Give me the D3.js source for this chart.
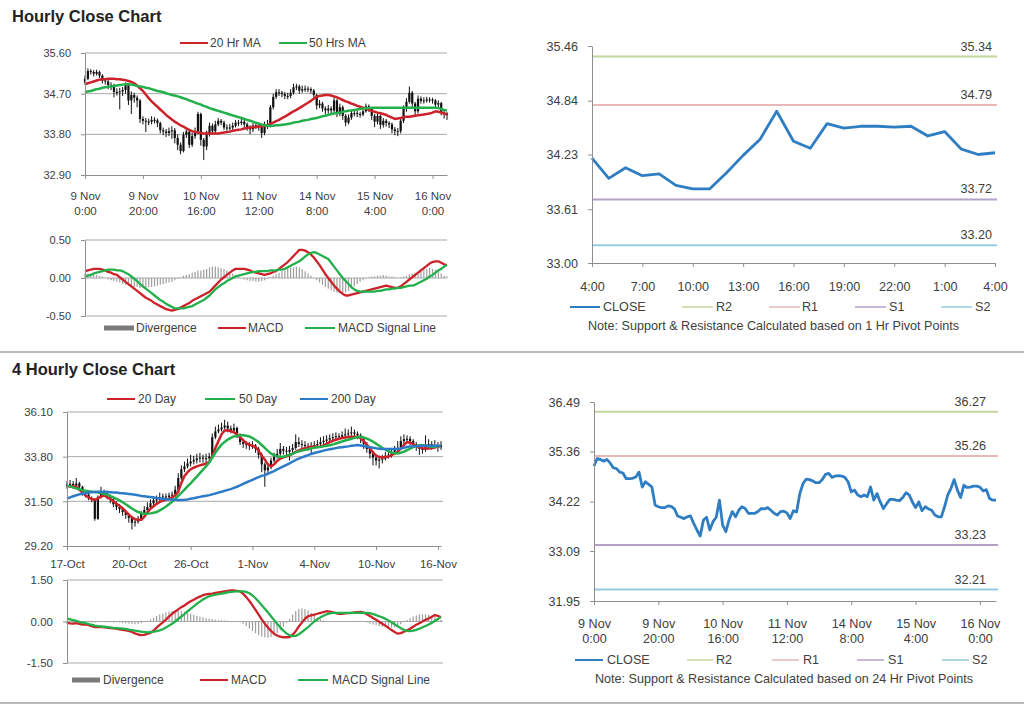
<!DOCTYPE html>
<html><head><meta charset="utf-8">
<script src="https://cdn.jsdelivr.net/npm/d3@7"></script>
<style>
body{margin:0;background:#fff;}
svg{display:block;}
</style></head><body>
<svg id="chart" width="1024" height="706"></svg>
<script>
// ---------------- DATA ----------------
// Hourly bars (9 Nov 0:00 -> 16 Nov), 126 bars
const hourlyTickLabels = [["9 Nov","0:00"],["9 Nov","20:00"],["10 Nov","16:00"],["11 Nov","12:00"],["14 Nov","8:00"],["15 Nov","4:00"],["16 Nov","0:00"]];
const hourlyFirstOpen = 34.95;
const hourlyClose = [
35.03,35.20,35.18,35.14,35.18,35.10,34.99,34.97,34.89,34.87,
34.74,34.74,34.75,34.78,34.89,34.55,34.67,34.61,34.55,34.14,
34.10,34.08,34.08,34.12,34.11,34.05,33.89,33.86,33.83,33.87,
33.89,33.72,33.57,33.43,33.79,33.86,33.57,33.76,33.86,34.25,
33.68,33.53,33.80,33.99,33.87,34.02,34.10,34.06,33.95,33.95,
33.95,33.99,34.06,34.05,34.08,34.02,33.95,33.91,33.99,34.00,
33.96,33.83,34.01,33.98,34.40,34.63,34.73,34.72,34.69,34.65,
34.65,34.72,34.84,34.86,34.77,34.80,34.81,34.80,34.77,34.67,
34.44,34.48,34.37,34.33,34.37,34.33,34.55,34.25,34.40,34.21,
34.06,34.17,34.27,34.27,34.25,34.24,34.31,34.42,34.37,34.21,
34.08,34.21,34.01,34.10,34.05,34.02,33.91,33.87,33.87,34.10,
34.37,34.52,34.72,34.48,34.31,34.59,34.54,34.55,34.57,34.57,
34.55,34.46,34.49,34.29,34.25,34.25];
const hourlyHigh = [
35.10,35.26,35.24,35.22,35.23,35.21,35.13,35.04,35.01,34.95,
34.92,34.82,34.83,34.85,34.95,34.92,34.75,34.72,34.66,34.58,
34.20,34.16,34.15,34.20,34.18,34.15,34.08,33.95,33.92,33.95,
33.98,33.94,33.80,33.62,33.85,33.95,33.90,33.84,33.95,34.30,
34.28,33.72,33.88,34.06,34.04,34.10,34.16,34.14,34.10,34.02,
34.03,34.06,34.12,34.12,34.15,34.12,34.06,34.00,34.05,34.07,
34.05,34.00,34.08,34.12,34.45,34.70,34.80,34.80,34.76,34.74,
34.72,34.80,34.92,34.92,34.90,34.88,34.88,34.86,34.84,34.80,
34.70,34.56,34.52,34.42,34.45,34.42,34.62,34.58,34.48,34.44,
34.25,34.24,34.34,34.34,34.32,34.30,34.38,34.48,34.46,34.40,
34.25,34.28,34.24,34.16,34.14,34.09,34.06,33.96,33.94,34.16,
34.44,34.60,34.86,34.76,34.52,34.66,34.64,34.62,34.63,34.62,
34.61,34.58,34.55,34.52,34.34,34.30];
const hourlyLow = [
34.90,35.00,35.12,35.08,35.10,35.05,34.93,34.90,34.80,34.78,
34.62,34.66,34.35,34.65,34.70,34.45,34.25,34.50,34.40,34.05,
34.02,33.85,34.00,34.02,34.04,33.96,33.82,33.78,33.74,33.76,
33.70,33.60,33.45,33.36,33.40,33.72,33.50,33.52,33.70,33.80,
33.55,33.23,33.45,33.75,33.80,33.82,33.98,34.00,33.90,33.88,
33.89,33.90,33.95,33.98,34.00,33.95,33.88,33.80,33.85,33.92,
33.88,33.72,33.78,33.92,33.95,34.35,34.58,34.65,34.62,34.58,
34.58,34.60,34.68,34.78,34.70,34.72,34.74,34.73,34.70,34.60,
34.35,34.38,34.30,34.24,34.26,34.22,34.28,34.18,34.20,34.12,
33.98,34.02,34.12,34.20,34.18,34.17,34.20,34.28,34.30,34.12,
33.96,34.02,33.92,33.95,33.97,33.94,33.82,33.78,33.76,33.82,
34.05,34.30,34.48,34.40,34.22,34.26,34.48,34.48,34.50,34.50,
34.48,34.40,34.38,34.22,34.15,34.12];
const hourlyMa20 = [
34.91,34.93,34.95,34.97,34.99,35.01,35.02,35.02,35.03,35.03,
35.03,35.02,35.02,35.01,35.00,34.98,34.96,34.93,34.88,34.82,
34.76,34.68,34.60,34.53,34.47,34.41,34.35,34.29,34.23,34.18,
34.13,34.08,34.04,34.00,33.97,33.93,33.90,33.87,33.85,33.84,
33.83,33.82,33.82,33.82,33.82,33.82,33.82,33.83,33.84,33.85,
33.86,33.88,33.89,33.90,33.91,33.93,33.94,33.95,33.96,33.96,
33.97,33.98,33.99,34.00,34.03,34.06,34.09,34.12,34.16,34.19,
34.23,34.27,34.31,34.34,34.38,34.42,34.46,34.50,34.54,34.59,
34.63,34.65,34.66,34.67,34.67,34.66,34.64,34.62,34.59,34.56,
34.53,34.51,34.48,34.46,34.43,34.41,34.39,34.37,34.34,34.32,
34.30,34.28,34.27,34.25,34.23,34.20,34.17,34.14,34.15,34.16,
34.18,34.19,34.19,34.20,34.21,34.22,34.23,34.24,34.25,34.26,
34.28,34.31,34.30,34.28,34.26,34.24];
const hourlyMa50 = [
34.73,34.75,34.76,34.78,34.80,34.81,34.83,34.84,34.85,34.86,
34.87,34.88,34.89,34.90,34.91,34.91,34.90,34.89,34.87,34.86,
34.85,34.83,34.82,34.80,34.78,34.76,34.75,34.73,34.71,34.69,
34.67,34.66,34.64,34.62,34.60,34.58,34.55,34.53,34.50,34.48,
34.46,34.43,34.41,34.38,34.36,34.34,34.32,34.30,34.28,34.26,
34.24,34.22,34.20,34.18,34.16,34.14,34.12,34.10,34.08,34.06,
34.04,34.02,34.00,33.99,33.99,33.99,34.00,34.00,34.01,34.02,
34.03,34.04,34.06,34.07,34.08,34.10,34.11,34.12,34.14,34.15,
34.16,34.18,34.20,34.21,34.23,34.25,34.26,34.27,34.28,34.30,
34.31,34.32,34.33,34.34,34.35,34.36,34.37,34.38,34.38,34.39,
34.39,34.39,34.39,34.39,34.39,34.39,34.39,34.39,34.39,34.39,
34.39,34.39,34.39,34.39,34.39,34.39,34.39,34.39,34.39,34.39,
34.39,34.39,34.38,34.36,34.34,34.33];
const hourlyMacd = [
0.09,0.10,0.11,0.12,0.12,0.12,0.11,0.10,0.08,0.07,
0.05,0.04,0.01,-0.02,-0.05,-0.08,-0.11,-0.14,-0.17,-0.20,
-0.23,-0.26,-0.28,-0.30,-0.33,-0.35,-0.37,-0.39,-0.41,-0.42,
-0.43,-0.42,-0.41,-0.39,-0.37,-0.35,-0.33,-0.30,-0.28,-0.26,
-0.24,-0.22,-0.20,-0.18,-0.14,-0.10,-0.06,-0.02,0.01,0.04,
0.07,0.10,0.12,0.12,0.12,0.12,0.11,0.10,0.08,0.07,
0.06,0.05,0.04,0.05,0.06,0.08,0.09,0.12,0.15,0.18,
0.21,0.25,0.29,0.33,0.37,0.37,0.36,0.34,0.31,0.27,
0.22,0.17,0.11,0.05,0.00,-0.05,-0.10,-0.14,-0.18,-0.21,
-0.23,-0.23,-0.22,-0.21,-0.20,-0.19,-0.18,-0.17,-0.16,-0.15,
-0.14,-0.13,-0.12,-0.11,-0.10,-0.11,-0.12,-0.13,-0.13,-0.11,
-0.08,-0.05,-0.02,0.01,0.04,0.07,0.10,0.13,0.16,0.19,
0.21,0.22,0.22,0.20,0.18,0.17];
const hourlySignal = [
0.02,0.03,0.04,0.06,0.07,0.08,0.09,0.10,0.11,0.11,
0.11,0.10,0.10,0.09,0.07,0.05,0.02,-0.01,-0.04,-0.08,
-0.11,-0.14,-0.17,-0.20,-0.23,-0.26,-0.29,-0.31,-0.34,-0.36,
-0.38,-0.40,-0.40,-0.40,-0.40,-0.39,-0.38,-0.37,-0.35,-0.33,
-0.31,-0.29,-0.26,-0.23,-0.19,-0.15,-0.12,-0.09,-0.07,-0.04,
-0.02,0.00,0.02,0.03,0.04,0.05,0.06,0.07,0.08,0.08,
0.09,0.09,0.09,0.09,0.10,0.10,0.10,0.11,0.11,0.12,
0.14,0.16,0.18,0.20,0.22,0.25,0.28,0.31,0.33,0.34,
0.33,0.31,0.29,0.27,0.25,0.20,0.15,0.10,0.05,0.00,
-0.04,-0.08,-0.12,-0.15,-0.17,-0.18,-0.18,-0.18,-0.18,-0.18,
-0.18,-0.17,-0.17,-0.16,-0.15,-0.15,-0.14,-0.14,-0.13,-0.13,
-0.12,-0.11,-0.10,-0.10,-0.09,-0.07,-0.05,-0.03,-0.01,0.02,
0.04,0.07,0.10,0.12,0.15,0.17];
const hourlyDivergence = [
0.06,0.06,0.06,0.05,0.04,0.03,0.02,0.00,-0.02,-0.03,
-0.04,-0.05,-0.06,-0.08,-0.09,-0.10,-0.11,-0.12,-0.12,-0.13,
-0.13,-0.13,-0.12,-0.12,-0.11,-0.10,-0.09,-0.08,-0.07,-0.06,
-0.05,-0.03,-0.01,0.01,0.03,0.04,0.05,0.07,0.08,0.10,
0.10,0.11,0.12,0.14,0.15,0.15,0.14,0.13,0.12,0.10,
0.08,0.06,0.04,0.02,0.00,-0.02,-0.03,-0.04,-0.04,-0.05,
-0.05,-0.04,-0.03,-0.01,0.01,0.03,0.05,0.07,0.09,0.10,
0.12,0.13,0.14,0.15,0.14,0.12,0.09,0.06,0.03,0.00,
-0.03,-0.06,-0.09,-0.12,-0.14,-0.16,-0.18,-0.19,-0.20,-0.20,
-0.19,-0.17,-0.14,-0.11,-0.08,-0.05,-0.03,-0.01,0.01,0.02,
0.02,0.03,0.03,0.04,0.03,0.02,0.02,0.01,0.00,0.01,
0.02,0.03,0.05,0.06,0.07,0.08,0.10,0.11,0.12,0.13,
0.12,0.11,0.09,0.06,0.03,0.02];

// 4-hourly bars (17 Oct -> 16 Nov), 122 bars
const fourTickLabels = ["17-Oct","20-Oct","26-Oct","1-Nov","4-Nov","10-Nov","16-Nov"];
const fourFirstOpen = 32.30;
const fourClose = [
32.35,32.40,32.30,32.42,32.25,31.95,31.85,31.65,31.60,30.60,
31.70,31.95,31.90,31.75,31.60,31.35,31.20,31.10,30.95,30.80,
30.65,30.40,30.45,30.60,30.85,31.05,31.20,31.40,31.55,31.60,
31.70,31.75,31.72,31.80,31.85,32.10,32.70,33.15,33.30,33.45,
33.55,33.62,33.70,33.75,33.70,33.72,33.80,34.80,35.10,35.20,
35.30,35.40,35.25,35.15,35.28,34.90,34.55,34.45,34.40,34.35,
34.38,34.20,33.90,33.40,33.10,33.25,33.60,33.80,33.95,34.20,
34.10,34.05,34.15,34.25,34.55,34.45,34.40,34.35,34.30,34.35,
34.40,34.45,34.55,34.62,34.68,34.75,34.80,34.85,34.82,34.90,
34.95,35.00,35.05,34.98,34.90,34.70,34.45,34.20,33.95,33.75,
33.60,33.65,33.70,33.85,33.90,34.05,34.15,34.25,34.60,34.70,
34.72,34.60,34.45,34.30,34.20,34.15,34.30,34.45,34.35,34.40,
34.30,34.38];
const fourHigh = [
32.55,32.60,32.55,32.70,32.50,32.30,32.05,31.95,31.75,31.65,
31.80,32.25,32.10,32.05,31.85,31.70,31.50,31.35,31.20,31.05,
30.90,30.70,30.60,30.75,31.00,31.25,31.45,31.60,31.75,31.80,
31.95,31.90,31.90,31.95,32.00,32.30,32.95,33.35,33.55,33.70,
33.90,33.85,33.95,34.00,33.90,33.95,34.00,35.00,35.35,35.45,
35.55,35.70,35.60,35.40,35.50,35.35,35.00,34.70,34.60,34.55,
34.60,34.45,34.30,34.00,33.50,33.45,33.75,34.00,34.20,34.50,
34.35,34.30,34.35,34.45,34.95,34.80,34.65,34.60,34.50,34.55,
34.60,34.65,34.80,34.85,34.90,34.95,35.00,35.05,35.00,35.10,
35.25,35.20,35.35,35.20,35.10,35.00,34.80,34.55,34.30,34.05,
33.90,33.85,33.90,34.05,34.10,34.25,34.35,34.60,34.85,34.95,
34.90,34.85,34.70,34.55,34.40,34.35,34.90,34.70,34.60,34.65,
34.55,34.60];
const fourLow = [
32.15,32.20,32.15,32.20,32.05,31.80,31.70,31.55,31.45,30.50,
30.55,31.65,31.75,31.60,31.40,31.20,31.05,30.90,30.75,30.60,
30.40,30.05,30.20,30.35,30.50,30.75,30.95,31.10,31.30,31.40,
31.50,31.55,31.55,31.60,31.45,31.75,32.00,32.60,33.00,33.20,
33.30,33.40,33.45,33.50,33.50,33.50,33.60,33.70,34.70,35.00,
35.10,35.20,35.05,35.00,35.05,34.75,34.40,34.25,34.20,34.15,
34.20,34.00,33.70,33.00,32.25,32.90,33.15,33.50,33.70,33.85,
33.90,33.85,33.60,34.00,34.15,34.30,34.25,34.20,34.10,33.95,
34.20,34.25,34.35,34.40,34.45,34.55,34.60,34.65,34.65,34.70,
34.75,34.80,34.85,34.80,34.70,34.50,34.20,34.00,33.70,33.35,
33.35,33.20,33.45,33.60,33.70,33.75,33.90,34.00,34.15,34.45,
34.50,34.40,34.25,34.10,33.90,33.95,34.05,34.20,34.15,34.20,
34.05,34.15];
const fourMa20 = [
32.28,32.28,32.27,32.25,32.10,31.95,31.80,31.70,31.62,31.57,
31.65,31.75,31.80,31.72,31.62,31.50,31.38,31.27,31.15,30.98,
30.82,30.67,30.58,30.55,30.55,30.70,30.92,31.12,31.25,31.37,
31.47,31.53,31.58,31.63,31.70,31.80,32.00,32.45,32.80,33.00,
33.15,33.23,33.30,33.35,33.40,33.45,33.52,33.80,34.25,34.60,
34.95,35.15,35.16,35.12,35.05,34.95,34.80,34.65,34.50,34.42,
34.36,34.30,34.10,33.85,33.65,33.40,33.30,33.40,33.58,33.70,
33.76,33.82,33.87,33.95,34.05,34.12,34.18,34.23,34.28,34.31,
34.32,34.31,34.31,34.38,34.46,34.55,34.62,34.67,34.72,34.76,
34.79,34.81,34.82,34.83,34.83,34.75,34.60,34.42,34.22,34.02,
33.85,33.78,33.76,33.78,33.80,33.88,33.96,34.05,34.22,34.40,
34.55,34.52,34.45,34.35,34.28,34.24,34.22,34.22,34.25,34.28,
34.32,34.35];
const fourMa50 = [
32.31,32.27,32.22,32.17,32.12,32.07,32.04,32.02,32.00,31.98,
31.96,31.93,31.89,31.84,31.77,31.71,31.63,31.55,31.45,31.35,
31.24,31.13,31.03,30.95,30.89,30.86,30.86,30.88,30.91,30.95,
31.03,31.12,31.23,31.35,31.48,31.62,31.78,31.94,32.10,32.27,
32.43,32.60,32.77,32.95,33.13,33.30,33.50,33.75,34.00,34.22,
34.42,34.56,34.68,34.77,34.84,34.88,34.90,34.90,34.88,34.84,
34.76,34.66,34.55,34.40,34.25,34.10,33.96,33.88,33.82,33.79,
33.80,33.84,33.90,33.96,34.02,34.07,34.11,34.15,34.19,34.23,
34.26,34.28,34.30,34.33,34.36,34.39,34.43,34.48,34.53,34.58,
34.63,34.67,34.72,34.77,34.80,34.82,34.79,34.73,34.66,34.57,
34.47,34.36,34.26,34.17,34.08,34.01,33.97,33.96,34.00,34.06,
34.13,34.21,34.29,34.35,34.39,34.39,34.37,34.34,34.31,34.31,
34.33,34.35];
const fourMa200 = [
31.65,31.70,31.76,31.81,31.86,31.89,31.92,31.95,31.97,31.98,
31.99,31.99,31.98,31.98,31.97,31.96,31.95,31.93,31.92,31.90,
31.88,31.86,31.84,31.81,31.78,31.76,31.74,31.72,31.70,31.67,
31.65,31.63,31.61,31.60,31.59,31.58,31.57,31.57,31.58,31.60,
31.63,31.66,31.70,31.73,31.76,31.79,31.82,31.86,31.90,31.95,
31.99,32.04,32.09,32.13,32.19,32.25,32.32,32.40,32.47,32.54,
32.61,32.68,32.75,32.81,32.85,32.92,32.99,33.06,33.14,33.22,
33.30,33.38,33.46,33.54,33.63,33.70,33.76,33.82,33.88,33.94,
33.99,34.03,34.07,34.11,34.15,34.18,34.21,34.24,34.27,34.29,
34.31,34.33,34.36,34.38,34.40,34.38,34.35,34.32,34.29,34.26,
34.23,34.21,34.19,34.19,34.19,34.19,34.19,34.19,34.22,34.26,
34.30,34.33,34.34,34.35,34.35,34.36,34.36,34.36,34.36,34.36,
34.36,34.36];
const fourMacd = [
-0.05,-0.07,-0.08,-0.06,-0.09,-0.11,-0.10,-0.13,-0.17,-0.20,
-0.20,-0.19,-0.21,-0.22,-0.24,-0.25,-0.26,-0.28,-0.30,-0.32,
-0.34,-0.38,-0.43,-0.47,-0.49,-0.48,-0.45,-0.41,-0.33,-0.22,
-0.12,-0.03,0.07,0.18,0.28,0.36,0.44,0.52,0.58,0.66,
0.73,0.79,0.85,0.90,0.95,0.98,1.00,1.01,1.03,1.05,
1.07,1.09,1.11,1.12,1.12,1.11,1.09,1.00,0.88,0.74,
0.58,0.42,0.25,0.08,-0.08,-0.22,-0.34,-0.44,-0.51,-0.55,
-0.57,-0.57,-0.56,-0.48,-0.35,-0.18,-0.04,0.10,0.19,0.22,
0.25,0.28,0.31,0.34,0.37,0.36,0.33,0.30,0.28,0.28,
0.29,0.30,0.31,0.33,0.34,0.35,0.32,0.26,0.20,0.13,
0.06,-0.01,-0.08,-0.15,-0.23,-0.31,-0.38,-0.44,-0.42,-0.37,
-0.32,-0.26,-0.19,-0.12,-0.06,0.00,0.06,0.11,0.17,0.23,
0.20,0.16];
const fourSignal = [
0.11,0.08,0.05,0.02,-0.01,-0.04,-0.06,-0.09,-0.12,-0.15,
-0.17,-0.18,-0.19,-0.20,-0.21,-0.23,-0.24,-0.25,-0.26,-0.27,
-0.29,-0.31,-0.33,-0.35,-0.37,-0.38,-0.39,-0.38,-0.37,-0.35,
-0.32,-0.28,-0.22,-0.15,-0.08,0.00,0.09,0.18,0.27,0.37,
0.46,0.55,0.64,0.72,0.80,0.86,0.91,0.94,0.97,0.99,
1.01,1.03,1.05,1.07,1.08,1.09,1.09,1.09,1.07,1.02,
0.94,0.84,0.72,0.59,0.46,0.33,0.19,0.05,-0.09,-0.21,
-0.33,-0.43,-0.50,-0.53,-0.52,-0.46,-0.38,-0.29,-0.20,-0.10,
0.00,0.08,0.15,0.21,0.26,0.29,0.31,0.31,0.31,0.31,
0.31,0.31,0.31,0.31,0.31,0.31,0.31,0.31,0.30,0.27,
0.23,0.19,0.15,0.10,0.04,-0.03,-0.10,-0.17,-0.24,-0.30,
-0.34,-0.35,-0.33,-0.30,-0.26,-0.21,-0.16,-0.11,-0.05,0.02,
0.09,0.16];
const fourDivergence = [
-0.08,-0.08,-0.07,-0.05,-0.05,-0.04,-0.04,-0.03,-0.04,-0.04,
-0.03,-0.02,-0.03,-0.03,-0.03,-0.04,-0.03,-0.04,-0.05,-0.06,
-0.07,-0.09,-0.10,-0.09,-0.06,-0.02,0.03,0.08,0.14,0.20,
0.25,0.29,0.33,0.36,0.38,0.40,0.40,0.38,0.35,0.31,
0.28,0.24,0.21,0.18,0.15,0.12,0.10,0.08,0.06,0.05,
0.04,0.04,0.03,0.02,0.01,0.00,-0.03,-0.08,-0.16,-0.25,
-0.34,-0.42,-0.49,-0.54,-0.57,-0.59,-0.56,-0.50,-0.42,-0.32,
-0.20,-0.05,0.10,0.25,0.38,0.45,0.47,0.45,0.40,0.32,
0.22,0.14,0.08,0.04,0.02,0.01,0.00,-0.01,-0.02,-0.02,
-0.01,0.00,0.01,0.02,0.02,0.01,-0.01,-0.04,-0.08,-0.11,
-0.14,-0.17,-0.19,-0.21,-0.22,-0.22,-0.20,-0.16,-0.10,-0.03,
0.05,0.12,0.18,0.22,0.25,0.26,0.26,0.24,0.21,0.16,
0.10,0.05];

// 1 Hr pivot chart (last 25 hours)
const pivot1Hours = ["4:00","5:00","6:00","7:00","8:00","9:00","10:00","11:00","12:00","13:00","14:00","15:00","16:00","17:00","18:00","19:00","20:00","21:00","22:00","23:00","0:00","1:00","2:00","3:00","4:00"];
const pivot1Close = [34.19,33.96,34.08,33.99,34.01,33.88,33.84,33.84,34.02,34.22,34.40,34.72,34.38,34.30,34.58,34.53,34.55,34.55,34.54,34.55,34.44,34.49,34.29,34.23,34.25];
const levelNames = ["R2","R1","S1","S2"];
const pivot1Levels = [35.34,34.79,33.72,33.20];
const pivot1YTicks = [33.00,33.61,34.23,34.84,35.46];
const pivot24Levels = [36.27,35.26,33.23,32.21];
const pivot24YTicks = [31.95,33.09,34.22,35.36,36.49];

const hourlyYTicks = [32.90,33.80,34.70,35.60];
const hourlyMacdTicks = [-0.50,0.00,0.50];
const fourYTicks = [29.20,31.50,33.80,36.10];
const fourMacdTicks = [-1.50,0.00,1.50];

// ---------------- STYLE ----------------
const FONT = '"Liberation Sans", Arial, sans-serif';
const C = {red:'#cc2229', green:'#23b04c', blue:'#2c7bc8', close:'#2f7ec4', grid:'#a9a9a9', axis:'#8f8f8f', text:'#404040', div:'#9e9e9e',
  level:{R2:'#c3d69b',R1:'#e6b9b8',S1:'#b3a2c7',S2:'#93cddd'}};
const svg = d3.select('#chart').attr('font-family', FONT);
const fmt2 = d => d.toFixed(2);

function styleAxis(ax, fs){
  ax.attr('font-family', FONT);
  ax.select('.domain').attr('stroke', C.axis);
  ax.selectAll('.tick line').attr('stroke', C.axis);
  ax.selectAll('text').attr('fill', C.text).attr('font-size', fs);
}
function leftAxis(y, ticks, x, fs){
  const ax = svg.append('g').attr('transform', `translate(${x},0)`)
    .call(d3.axisLeft(y).tickValues(ticks).tickFormat(fmt2).tickSize(4).tickSizeOuter(0).tickPadding(10));
  styleAxis(ax, fs);
}
function bottomAxis(x, y0, ticks, labels, l1, lh, fs){
  const ax = svg.append('g').attr('transform', `translate(0,${y0})`)
    .call(d3.axisBottom(x).tickValues(ticks).tickFormat('').tickSize(4).tickSizeOuter(0));
  styleAxis(ax, fs);
  ax.selectAll('.tick text').each(function(d, i){
    const t = d3.select(this).attr('dy', null).attr('y', null);
    const lines = Array.isArray(labels[i]) ? labels[i] : [labels[i]];
    lines.forEach((s, k) => t.append('tspan').attr('x', 0).attr('y', l1 + k*lh).text(s));
  });
}
function hGrid(y, vals, x0, x1){
  svg.append('g').selectAll('line').data(vals).join('line')
    .attr('x1', x0).attr('x2', x1).attr('y1', d => y(d)).attr('y2', d => y(d))
    .attr('stroke', C.grid).attr('stroke-width', 1);
}
function drawLine(x, y, data, color, w){
  svg.append('path').datum(data)
    .attr('d', d3.line().x((d,i) => x(i)).y(d => y(d)))
    .attr('fill', 'none').attr('stroke', color).attr('stroke-width', w).attr('stroke-linejoin','round');
}
function candles(x, y, close, high, low, firstOpen, bw){
  const g = svg.append('g');
  const open = (i) => i ? close[i-1] : firstOpen;
  g.selectAll('line').data(close).join('line')
    .attr('x1', (d,i) => x(i)).attr('x2', (d,i) => x(i))
    .attr('y1', (d,i) => y(high[i])).attr('y2', (d,i) => y(low[i]))
    .attr('stroke', '#111').attr('stroke-width', 1);
  g.selectAll('rect').data(close).join('rect')
    .attr('x', (d,i) => x(i) - bw/2).attr('width', bw)
    .attr('y', (d,i) => y(Math.max(d, open(i))))
    .attr('height', (d,i) => Math.max(1, Math.abs(y(d) - y(open(i)))))
    .attr('fill', '#111');
}
function divBars(x, y, data){
  svg.append('g').selectAll('line').data(data).join('line')
    .attr('x1', (d,i) => x(i)).attr('x2', (d,i) => x(i))
    .attr('y1', y(0)).attr('y2', d => y(d))
    .attr('stroke', C.div).attr('stroke-width', 1.2);
}
function legLine(x1, x2, y, color, w, label, tx, fs){
  svg.append('line').attr('x1', x1).attr('x2', x2).attr('y1', y).attr('y2', y).attr('stroke', color).attr('stroke-width', w);
  svg.append('text').attr('x', tx).attr('y', y + 4).attr('font-size', fs || 12).attr('fill', C.text).text(label);
}
function legBar(x1, x2, y, label, tx){
  svg.append('rect').attr('x', x1).attr('y', y - 2.5).attr('width', x2 - x1).attr('height', 5).attr('fill', '#7a7a7a');
  svg.append('text').attr('x', tx).attr('y', y + 4).attr('font-size', 12).attr('fill', C.text).text(label);
}
function title(txt, y){
  svg.append('text').attr('x', 12).attr('y', y).attr('font-size', 16.5).attr('font-weight', 'bold').attr('fill', '#222').text(txt);
}

// ---------------- HOURLY CANDLE PANEL ----------------
title('Hourly Close Chart', 22);
const hx = d3.scaleLinear().domain([0, hourlyClose.length - 1]).range([85, 447]);
const hy = d3.scaleLinear().domain([32.90, 35.60]).range([175, 53]);
hGrid(hy, hourlyYTicks.slice(1), 85, 447);
candles(hx, hy, hourlyClose, hourlyHigh, hourlyLow, hourlyFirstOpen, 2.2);
drawLine(hx, hy, hourlyMa20, C.red, 2.5);
drawLine(hx, hy, hourlyMa50, C.green, 2.5);
leftAxis(hy, hourlyYTicks, 85, 11);
bottomAxis(hx, 175, hourlyTickLabels.map((d,i) => i*20), hourlyTickLabels, 25, 15, 11.5);
legLine(180, 208, 43, C.red, 2, '20 Hr MA', 210);
legLine(279, 307, 43, C.green, 2, '50 Hrs MA', 309);

// ---------------- HOURLY MACD ----------------
const hmy = d3.scaleLinear().domain([-0.5, 0.5]).range([316, 240]);
hGrid(hmy, hourlyMacdTicks, 85, 447);
divBars(hx, hmy, hourlyDivergence);
drawLine(hx, hmy, hourlyMacd, C.red, 2.3);
drawLine(hx, hmy, hourlySignal, C.green, 2.3);
leftAxis(hmy, hourlyMacdTicks, 85, 11);
legBar(104, 134, 328, 'Divergence', 136);
legLine(218, 246, 328, C.red, 2, 'MACD', 248);
legLine(305, 335, 328, C.green, 2, 'MACD Signal Line', 338);

// ---------------- PIVOT PANELS ----------------
function pivotPanel(cfg){
  const fs = 12.6;
  const x = d3.scaleLinear().domain([0, cfg.close.length - 1]).range([cfg.x0, cfg.x1]);
  const y = d3.scaleLinear().domain([cfg.yTicks[0], cfg.yTicks[cfg.yTicks.length-1]]).range([cfg.yb, cfg.yt]);
  cfg.levels.forEach((v, k) => {
    const nm = levelNames[k];
    svg.append('line').attr('x1', x(0)).attr('x2', cfg.x1 + 2).attr('y1', y(v)).attr('y2', y(v))
      .attr('stroke', C.level[nm]).attr('stroke-width', 2);
    svg.append('text').attr('x', cfg.lblX).attr('y', y(v) - 6).attr('text-anchor', 'end')
      .attr('font-size', fs).attr('fill', C.text).text(v.toFixed(2));
  });
  drawLine(x, y, cfg.close, C.close, 2.8);
  leftAxis(y, cfg.yTicks, cfg.x0, fs);
  bottomAxis(x, cfg.yb, cfg.ticks, cfg.tickLabels, cfg.l1, 15, fs);
  const L = cfg.leg;
  legLine(L[0][0], L[0][1], cfg.legY, C.close, 2, 'CLOSE', L[0][2], fs);
  levelNames.forEach((nm, k) => legLine(L[k+1][0], L[k+1][1], cfg.legY, C.level[nm], 1.5, nm, L[k+1][2], fs));
  svg.append('text').attr('x', cfg.noteX).attr('y', cfg.noteY).attr('font-size', fs).attr('fill', C.text).text(cfg.note);
}
pivotPanel({close: pivot1Close, x0: 592, x1: 995, yt: 46, yb: 263, yTicks: pivot1YTicks, levels: pivot1Levels,
  lblX: 992, ticks: pivot1Hours.map((d,i) => i).filter(i => i % 3 === 0),
  tickLabels: pivot1Hours.filter((d,i) => i % 3 === 0), l1: 27.5,
  legY: 307, leg: [[570,600,603],[682,713,716],[769,800,802],[855,886,889],[941,972,975]],
  noteX: 588, noteY: 330, note: 'Note: Support & Resistance Calculated based on 1 Hr Pivot Points'});

// ---------------- 4 HOURLY CANDLE PANEL ----------------
title('4 Hourly Close Chart', 375);
const fx = d3.scaleLinear().domain([0, fourClose.length - 1]).range([67, 441]);
const fy = d3.scaleLinear().domain([29.20, 36.10]).range([546, 412]);
hGrid(fy, fourYTicks.slice(1), 67, 443);
candles(fx, fy, fourClose, fourHigh, fourLow, fourFirstOpen, 2.2);
drawLine(fx, fy, fourMa20, C.red, 2.5);
drawLine(fx, fy, fourMa50, C.green, 2.5);
drawLine(fx, fy, fourMa200, C.blue, 2.5);
leftAxis(fy, fourYTicks, 67, 11.5);
bottomAxis(fx, 546, fourTickLabels.map((d,i) => i*20), fourTickLabels, 22, 15, 11.5);
legLine(107, 135, 399, C.red, 2, '20 Day', 138);
legLine(205, 235, 399, C.green, 2, '50 Day', 239);
legLine(300, 328, 399, C.blue, 2, '200 Day', 331);

// ---------------- 4 HOURLY MACD ----------------
const fmy = d3.scaleLinear().domain([-1.5, 1.5]).range([663, 580]);
hGrid(fmy, fourMacdTicks, 67, 443);
divBars(fx, fmy, fourDivergence);
drawLine(fx, fmy, fourMacd, C.red, 2.3);
drawLine(fx, fmy, fourSignal, C.green, 2.3);
leftAxis(fmy, fourMacdTicks, 67, 11.5);
legBar(72, 100, 680, 'Divergence', 103);
legLine(200, 228, 680, C.red, 2, 'MACD', 231);
legLine(298, 328, 680, C.green, 2, 'MACD Signal Line', 332);

// ---------------- 24 HR PIVOT PANEL ----------------
pivotPanel({close: hourlyClose, x0: 594, x1: 996, yt: 402, yb: 601, yTicks: pivot24YTicks, levels: pivot24Levels,
  lblX: 986, ticks: hourlyTickLabels.map((d,i) => i*20), tickLabels: hourlyTickLabels, l1: 27, 
  legY: 660, leg: [[575,603,607],[687,713,716],[772,799,803],[857,884,888],[942,969,972]],
  noteX: 595, noteY: 683, note: 'Note: Support & Resistance Calculated based on 24 Hr Pivot Points'});

// ---------------- SEPARATORS ----------------
[352, 703].forEach(yy => svg.append('line').attr('x1', 0).attr('x2', 1024).attr('y1', yy).attr('y2', yy)
  .attr('stroke', '#a0a0a0').attr('stroke-width', 1.5));
</script>
</body></html>
